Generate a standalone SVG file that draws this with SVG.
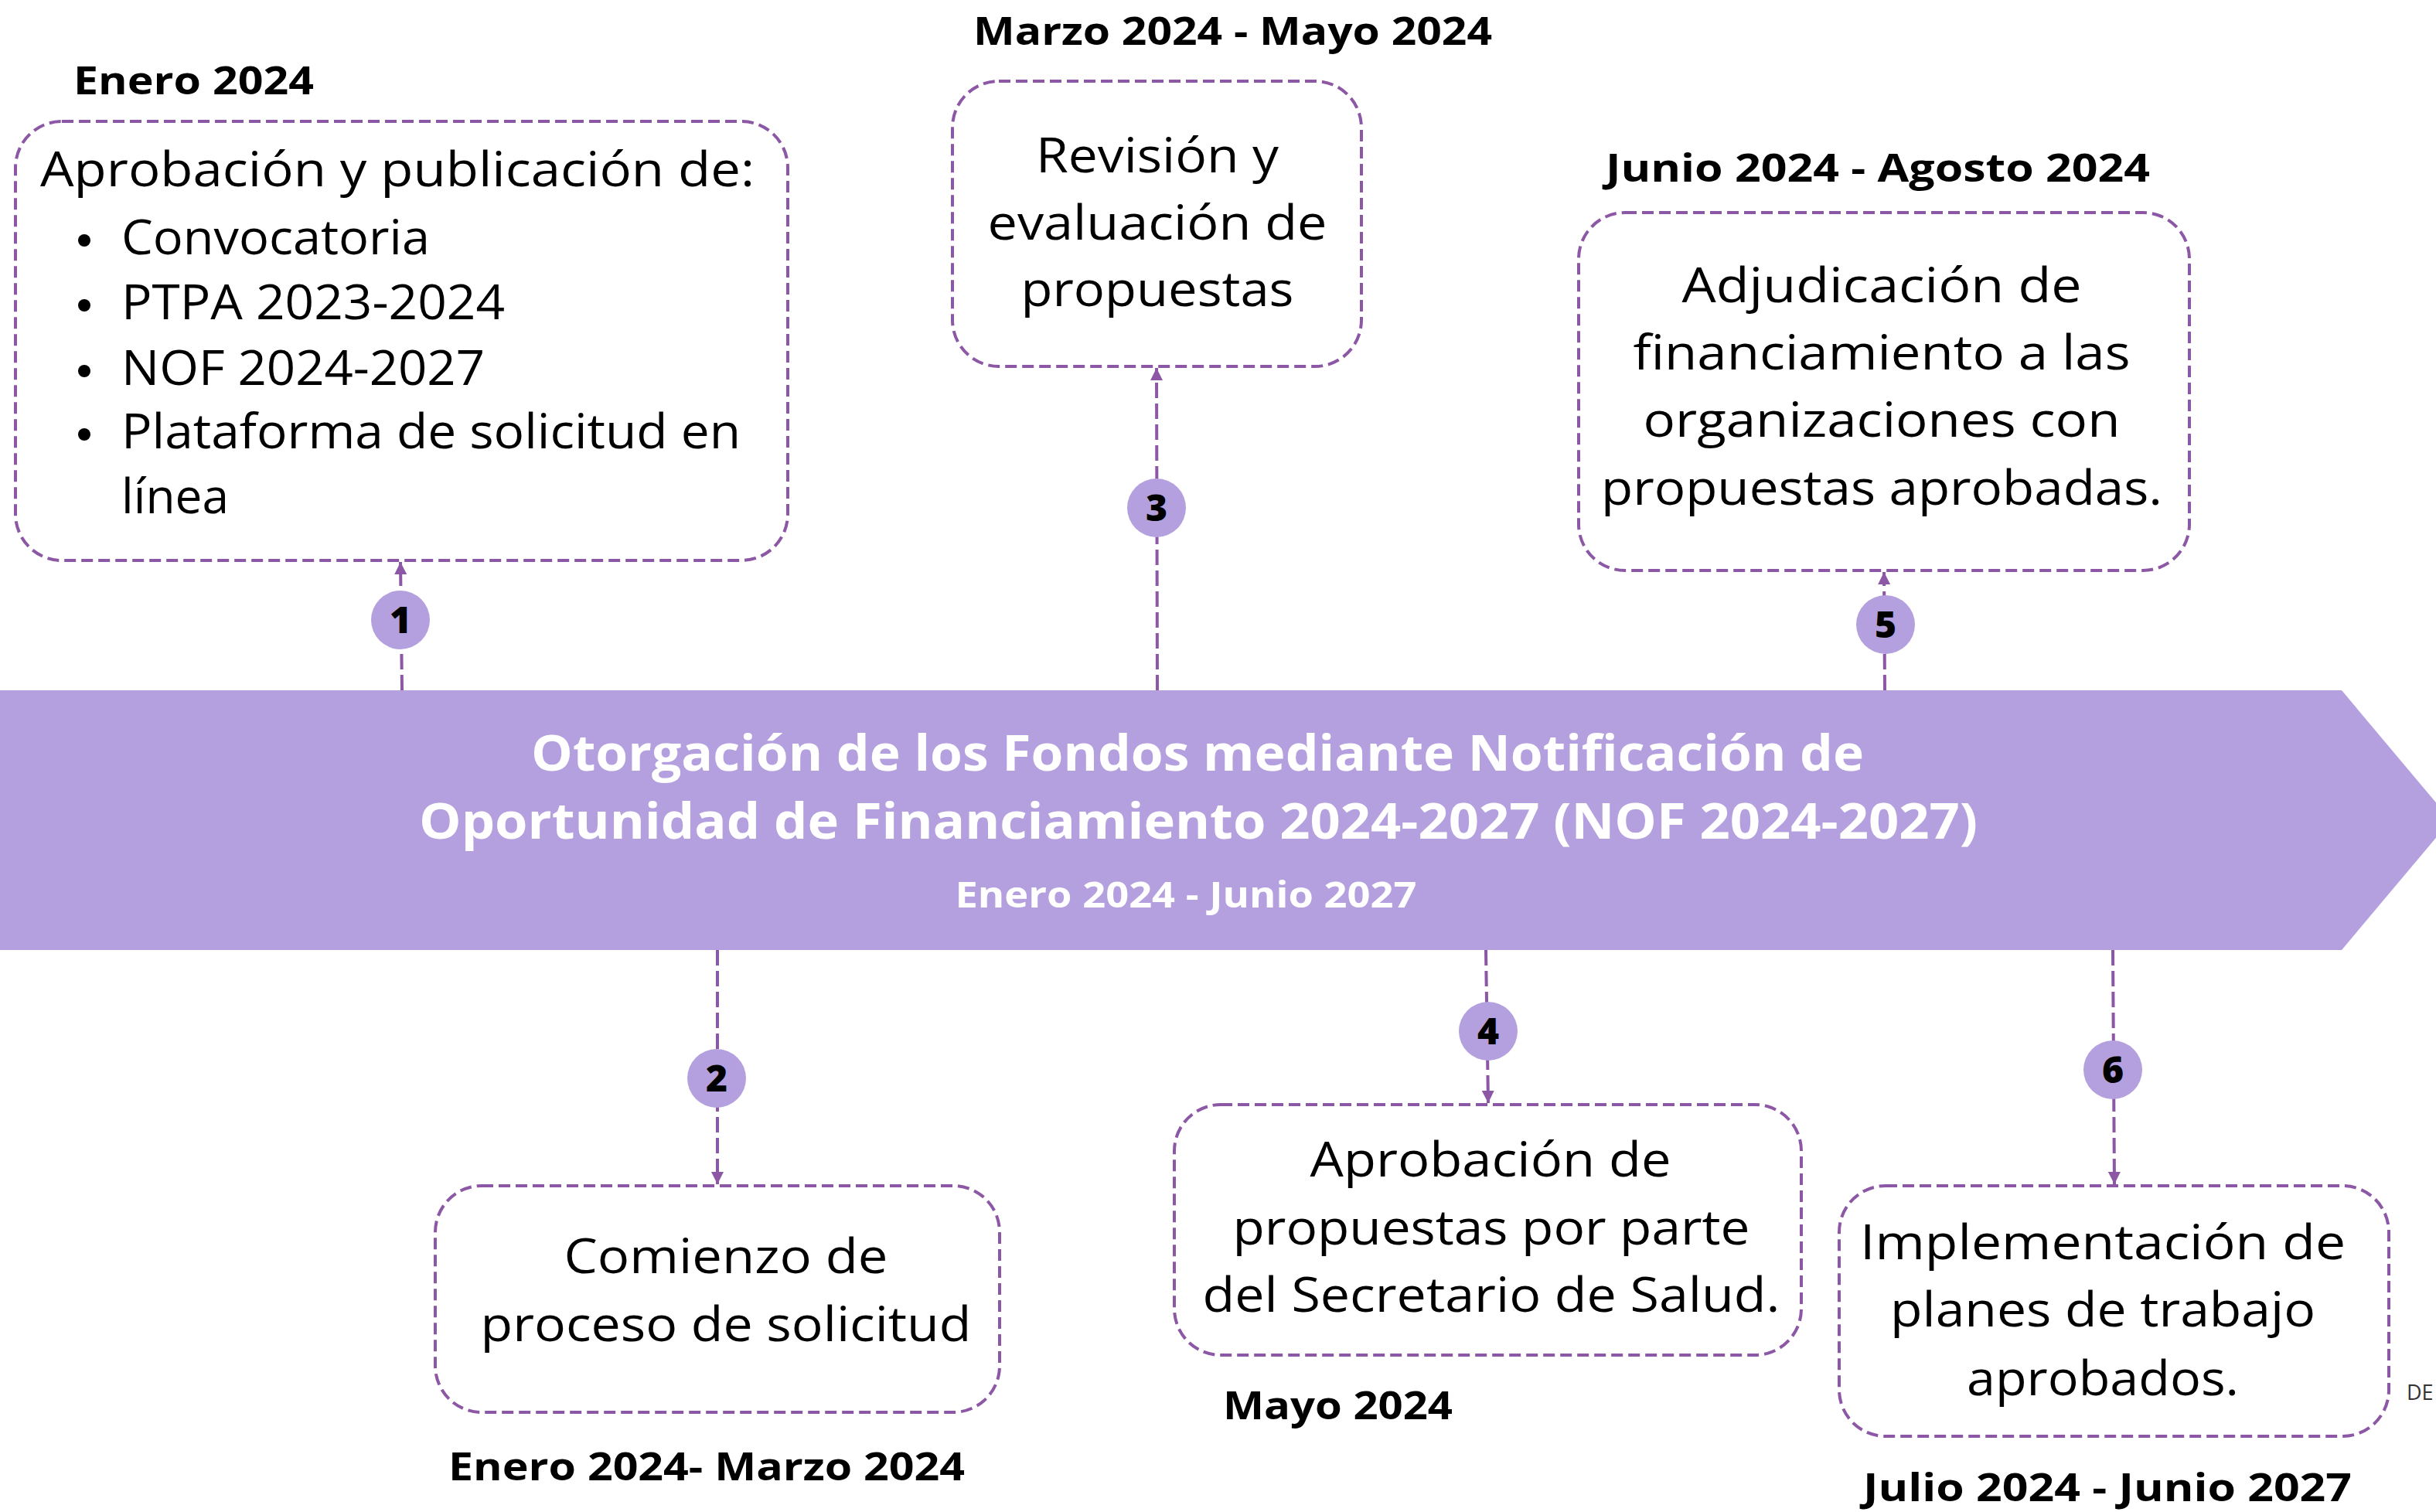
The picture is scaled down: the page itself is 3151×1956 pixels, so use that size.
<svg xmlns="http://www.w3.org/2000/svg" width="3151" height="1956" viewBox="0 0 3151 1956">
<defs>
<style>
.box{fill:#ffffff;stroke:#8c57a5;stroke-width:4;stroke-dasharray:15 7}
.con{fill:none;stroke:#8c57a5;stroke-width:4;stroke-dasharray:20 7}
.badge{fill:#b4a0de}
.num{font-family:"Open Sans","DejaVu Sans",sans-serif;font-weight:800;font-size:48px;fill:#000;text-anchor:middle}
.body{font-family:"Open Sans","Noto Sans","DejaVu Sans",sans-serif;font-size:62px;fill:#000}
.c{text-anchor:middle}
.lbl{font-family:"Open Sans","DejaVu Sans",sans-serif;font-weight:700;font-size:50px;fill:#000}
.ban{font-family:"Open Sans","DejaVu Sans",sans-serif;font-weight:700;fill:#ffffff;text-anchor:middle}
</style>
<marker id="ah" viewBox="0 0 10 10" refX="10" refY="5" markerWidth="16" markerHeight="16" markerUnits="userSpaceOnUse" orient="auto">
<path d="M0,0 L10,5 L0,10 z" fill="#8c57a5"/>
</marker>
</defs>
<rect width="3151" height="1956" fill="#ffffff"/>

<g id="banner">
<polygon points="0,893 3029,893 3170,1061 3029,1229 0,1229" fill="#b4a0de"/>
<text class="ban" x="1549" y="997" font-size="64" textLength="1724" lengthAdjust="spacingAndGlyphs">Otorgación de los Fondos mediante Notificación de</text>
<text class="ban" x="1550" y="1085" font-size="64" textLength="2016" lengthAdjust="spacingAndGlyphs">Oportunidad de Financiamiento 2024-2027 (NOF 2024-2027)</text>
<text class="ban" x="1534" y="1174" font-size="46" textLength="597" lengthAdjust="spacingAndGlyphs">Enero 2024 - Junio 2027</text>
</g>

<g id="connectors">
<line class="con" x1="520" y1="893" x2="518" y2="727" marker-end="url(#ah)"/>
<line class="con" x1="1497" y1="893" x2="1496" y2="476" marker-end="url(#ah)"/>
<line class="con" x1="2438" y1="893" x2="2437" y2="740" marker-end="url(#ah)"/>
<line class="con" x1="928" y1="1229" x2="928" y2="1532" marker-end="url(#ah)"/>
<line class="con" x1="1922" y1="1229" x2="1925" y2="1427" marker-end="url(#ah)"/>
<line class="con" x1="2733" y1="1229" x2="2735" y2="1532" marker-end="url(#ah)"/>
</g>

<g id="badges">
<g id="badge1"><circle class="badge" cx="518" cy="802" r="38"/><text class="num" x="518" y="819">1</text></g>
<g id="badge2"><circle class="badge" cx="927" cy="1395" r="38"/><text class="num" x="927" y="1412">2</text></g>
<g id="badge3"><circle class="badge" cx="1496" cy="657" r="38"/><text class="num" x="1496" y="674">3</text></g>
<g id="badge4"><circle class="badge" cx="1925" cy="1334" r="38"/><text class="num" x="1925" y="1351">4</text></g>
<g id="badge5"><circle class="badge" cx="2439" cy="808" r="38"/><text class="num" x="2439" y="825">5</text></g>
<g id="badge6"><circle class="badge" cx="2733" cy="1384" r="38"/><text class="num" x="2733" y="1401">6</text></g>
</g>

<g id="node1">
<text class="lbl" x="95" y="122" textLength="311" lengthAdjust="spacingAndGlyphs">Enero 2024</text>
<rect class="box" x="20" y="157" width="999" height="568" rx="60"/>
<text class="body" x="52" y="241" textLength="924" lengthAdjust="spacingAndGlyphs">Aprobación y publicación de:</text>
<circle cx="109" cy="311" r="8" fill="#000"/>
<circle cx="109" cy="395" r="8" fill="#000"/>
<circle cx="109" cy="480" r="8" fill="#000"/>
<circle cx="109" cy="562" r="8" fill="#000"/>
<text class="body" x="157" y="329" textLength="399" lengthAdjust="spacingAndGlyphs">Convocatoria</text>
<text class="body" x="157" y="413" textLength="496" lengthAdjust="spacingAndGlyphs">PTPA 2023-2024</text>
<text class="body" x="157" y="498" textLength="470" lengthAdjust="spacingAndGlyphs">NOF 2024-2027</text>
<text class="body" x="157" y="580" textLength="801" lengthAdjust="spacingAndGlyphs">Plataforma de solicitud en</text>
<text class="body" x="157" y="664" textLength="139" lengthAdjust="spacingAndGlyphs">línea</text>
</g>

<g id="node2">
<rect class="box" x="563" y="1534" width="730" height="293" rx="60"/>
<text class="body c" x="939" y="1647" textLength="419" lengthAdjust="spacingAndGlyphs">Comienzo de</text>
<text class="body c" x="939" y="1735" textLength="635" lengthAdjust="spacingAndGlyphs">proceso de solicitud</text>
<text class="lbl" x="580" y="1915" textLength="668" lengthAdjust="spacingAndGlyphs">Enero 2024- Marzo 2024</text>
</g>

<g id="node3">
<text class="lbl" x="1259" y="58" textLength="671" lengthAdjust="spacingAndGlyphs">Marzo 2024 - Mayo 2024</text>
<rect class="box" x="1232" y="105" width="529" height="369" rx="60"/>
<text class="body c" x="1497" y="223" textLength="314" lengthAdjust="spacingAndGlyphs">Revisión y</text>
<text class="body c" x="1497" y="310" textLength="439" lengthAdjust="spacingAndGlyphs">evaluación de</text>
<text class="body c" x="1497" y="396" textLength="353" lengthAdjust="spacingAndGlyphs">propuestas</text>
</g>

<g id="node4">
<rect class="box" x="1519" y="1429" width="811" height="324" rx="60"/>
<text class="body c" x="1928" y="1522" textLength="467" lengthAdjust="spacingAndGlyphs">Aprobación de</text>
<text class="body c" x="1929" y="1610" textLength="669" lengthAdjust="spacingAndGlyphs">propuestas por parte</text>
<text class="body c" x="1929" y="1697" textLength="747" lengthAdjust="spacingAndGlyphs">del Secretario de Salud.</text>
<text class="lbl" x="1582" y="1836" textLength="297" lengthAdjust="spacingAndGlyphs">Mayo 2024</text>
</g>

<g id="node5">
<text class="lbl" x="2077" y="235" textLength="704" lengthAdjust="spacingAndGlyphs">Junio 2024 - Agosto 2024</text>
<rect class="box" x="2042" y="275" width="790" height="463" rx="60"/>
<text class="body c" x="2434" y="391" textLength="517" lengthAdjust="spacingAndGlyphs">Adjudicación de</text>
<text class="body c" x="2434" y="478" textLength="643" lengthAdjust="spacingAndGlyphs">financiamiento a las</text>
<text class="body c" x="2434" y="565" textLength="617" lengthAdjust="spacingAndGlyphs">organizaciones con</text>
<text class="body c" x="2434" y="653" textLength="726" lengthAdjust="spacingAndGlyphs">propuestas aprobadas.</text>
</g>

<g id="node6">
<rect class="box" x="2379" y="1534" width="711" height="324" rx="60"/>
<text class="body c" x="2720" y="1629" textLength="628" lengthAdjust="spacingAndGlyphs">Implementación de</text>
<text class="body c" x="2720" y="1716" textLength="550" lengthAdjust="spacingAndGlyphs">planes de trabajo</text>
<text class="body c" x="2720" y="1805" textLength="352" lengthAdjust="spacingAndGlyphs">aprobados.</text>
<text class="lbl" x="2410" y="1942" textLength="632" lengthAdjust="spacingAndGlyphs">Julio 2024 - Junio 2027</text>
</g>

<text x="3113" y="1811" font-family="Open Sans, DejaVu Sans, sans-serif" font-size="27" fill="#333333">DE</text>
</svg>
